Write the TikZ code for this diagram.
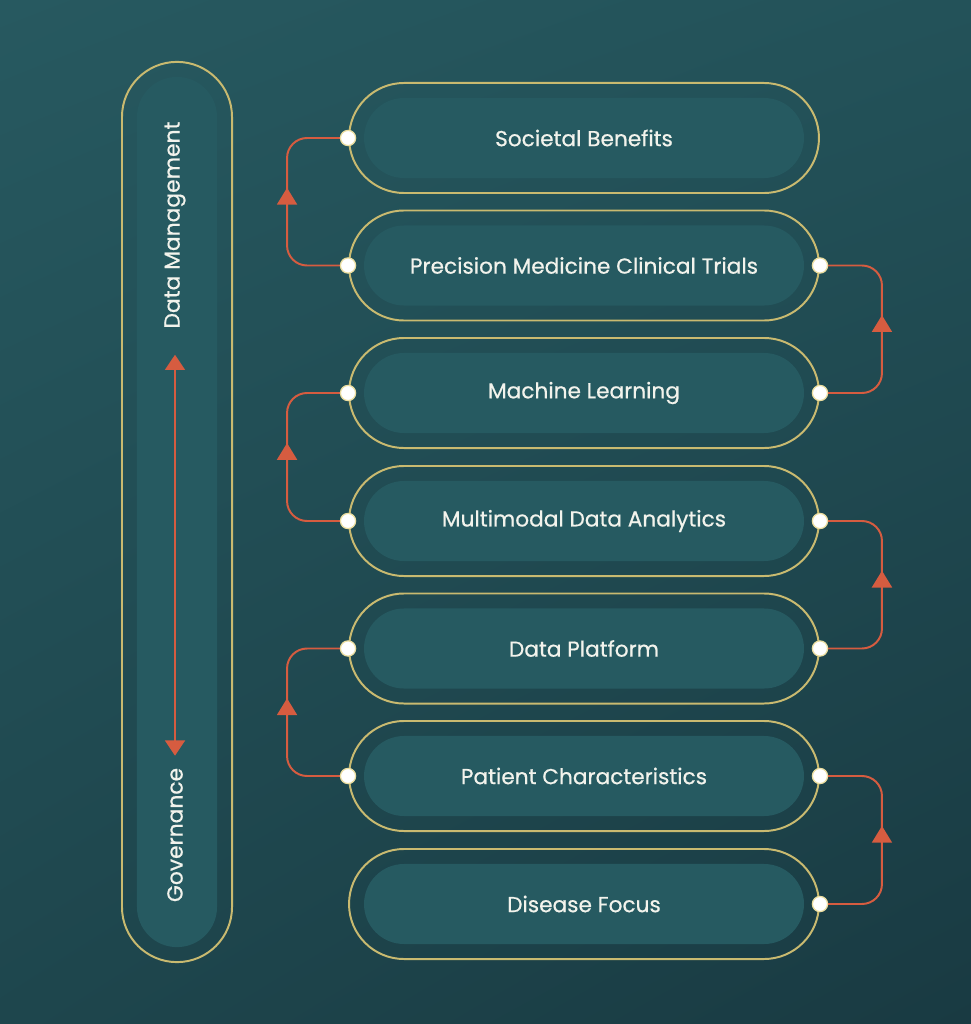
\documentclass[tikz,border=0pt]{standalone}
\usepackage{fontspec}
\setmainfont{Poppins}[FakeBold=0.6]
\usepackage{tikz}
\usetikzlibrary{arrows.meta, calc, shapes.misc, shadings, decorations.markings}
\usepackage{xcolor}
\definecolor{bgtopleft}{RGB}{39, 89, 96}
\definecolor{bgtopright}{RGB}{35, 82, 89}
\definecolor{bgbottomleft}{RGB}{30, 70, 77}
\definecolor{bgbottomright}{RGB}{25, 58, 66}
\definecolor{pillinner}{RGB}{38, 90, 97}
\definecolor{pillgold}{RGB}{201, 186, 112}
\definecolor{flowred}{RGB}{214, 92, 64}
\definecolor{labelwhite}{RGB}{242, 243, 236}
\definecolor{dotring}{RGB}{236, 222, 160}

\tikzset{
  pill/.style={rounded rectangle, draw=pillgold, line width=1.4pt,
    minimum width=11.98cm, minimum height=2.75cm, text=labelwhite,
    font=\fontsize{15.4}{18}\selectfont,
    path picture={\fill[pillinner, rounded corners=1cm]
      ($(path picture bounding box.north west)+(15,15)$) rectangle
      ($(path picture bounding box.south east)+(-15,-15)$);}},
  sidebar/.style={rectangle, rounded corners=1.375cm, draw=pillgold, line width=1.4pt,
    minimum width=2.75cm, minimum height=22.5cm,
    path picture={\fill[pillinner, rounded corners=1cm]
      ($(path picture bounding box.north west)+(15,15)$) rectangle
      ($(path picture bounding box.south east)+(-15,-15)$);}},
  sidelabel/.style={rotate=90, inner sep=0pt, text=labelwhite,
    font=\fontsize{15.5}{18}\selectfont},
  dot/.style={circle, fill=white, draw=dotring, line width=0.9pt,
    minimum size=0.38cm, inner sep=0pt},
  flow/.style={flowred, line width=1.4pt, rounded corners=0.5cm,
    postaction={decorate}, decoration={markings,
      mark=at position 0.56 with {\arrow{Triangle[length=0.42cm, width=0.5cm]}}}},
  twoway/.style={flowred, line width=1.2pt,
    {Triangle[length=0.38cm, width=0.5cm]}-{Triangle[length=0.38cm, width=0.5cm]}},
}

\begin{document}
\begin{tikzpicture}[x=0.025cm, y=-0.025cm, >=Stealth]

  % ---------- Background ----------
  \shade[upper left=bgtopleft, upper right=bgtopright,
         lower left=bgbottomleft, lower right=bgbottomright]
    (0,0) rectangle (971,1024);

  % ---------- Side bar ----------
  \node[sidebar] (bar) at (177,512) {};
  \node[sidelabel] (dm) at (175,225) {Data Management};
  \node[sidelabel] (gov) at (175,835) {Governance};
  \draw[twoway, shorten <=0.65cm, shorten >=0.3cm] (dm.west) -- (gov.east);

  % ---------- Steps ----------
  \node[pill] (soc)  at (584,138) {Societal Benefits};
  \node[pill] (pmct) at (584,265.5) {Precision Medicine Clinical Trials};
  \node[pill] (ml)   at (584,393) {Machine Learning};
  \node[pill] (mda)  at (584,521) {Multimodal Data Analytics};
  \node[pill] (plat) at (584,648.5) {Data Platform};
  \node[pill] (pat)  at (584,776) {Patient Characteristics};
  \node[pill] (dis)  at (584,904) {Disease Focus};

  % ---------- Flow between steps ----------
  \draw[flow] (dis.east)  -- ++(62,0)  |- (pat.east);
  \draw[flow] (pat.west)  -- ++(-61,0) |- (plat.west);
  \draw[flow] (plat.east) -- ++(62,0)  |- (mda.east);
  \draw[flow] (mda.west)  -- ++(-61,0) |- (ml.west);
  \draw[flow] (ml.east)   -- ++(62,0)  |- (pmct.east);
  \draw[flow] (pmct.west) -- ++(-61,0) |- (soc.west);

  % ---------- Joints ----------
  \node[dot] (soc-w)  at (soc.west) {};
  \node[dot] (pmct-w) at (pmct.west) {};
  \node[dot] (pmct-e) at (pmct.east) {};
  \node[dot] (ml-w)   at (ml.west) {};
  \node[dot] (ml-e)   at (ml.east) {};
  \node[dot] (mda-w)  at (mda.west) {};
  \node[dot] (mda-e)  at (mda.east) {};
  \node[dot] (plat-w) at (plat.west) {};
  \node[dot] (plat-e) at (plat.east) {};
  \node[dot] (pat-w)  at (pat.west) {};
  \node[dot] (pat-e)  at (pat.east) {};
  \node[dot] (dis-e)  at (dis.east) {};

\end{tikzpicture}
\end{document}
